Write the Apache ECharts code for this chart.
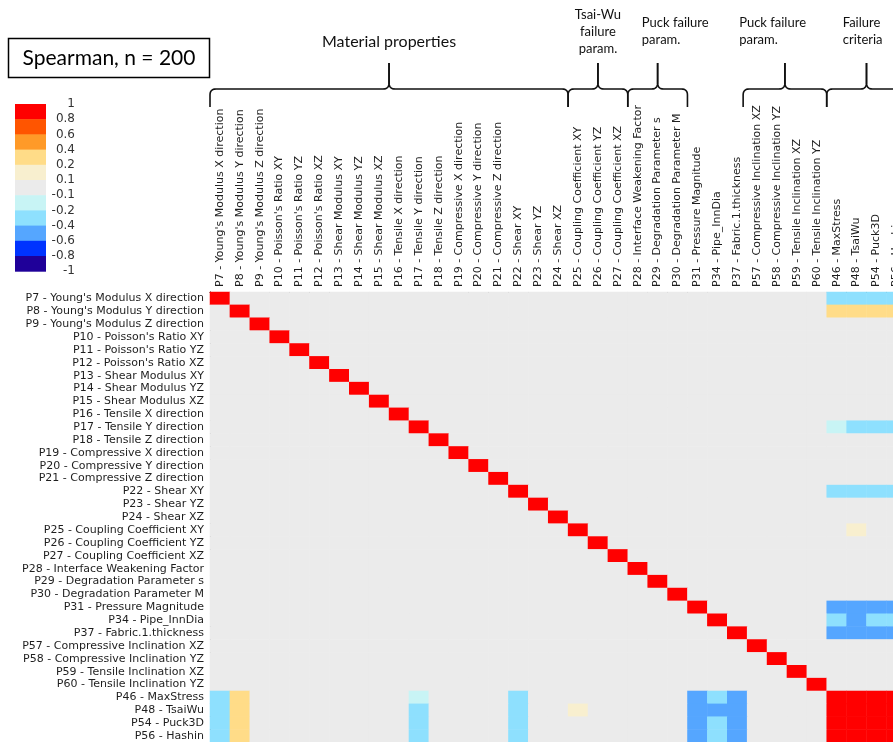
<!DOCTYPE html>
<html>
<head>
<meta charset="utf-8">
<script src="https://cdn.jsdelivr.net/npm/echarts@6/dist/echarts.min.js"></script>
<style>
  html, body { margin: 0; padding: 0; background: #fff; }
  #chart { width: 893px; height: 742px; }
</style>
</head>
<body>
<div id="chart"></div>
<script>
// Input parameters (rows/columns 1..31) followed by the failure criteria (32..35)
const inputParams = [
  "P7 - Young's Modulus X direction",
  "P8 - Young's Modulus Y direction",
  "P9 - Young's Modulus Z direction",
  "P10 - Poisson's Ratio XY",
  "P11 - Poisson's Ratio YZ",
  "P12 - Poisson's Ratio XZ",
  "P13 - Shear Modulus XY",
  "P14 - Shear Modulus YZ",
  "P15 - Shear Modulus XZ",
  "P16 - Tensile X direction",
  "P17 - Tensile Y direction",
  "P18 - Tensile Z direction",
  "P19 - Compressive X direction",
  "P20 - Compressive Y direction",
  "P21 - Compressive Z direction",
  "P22 - Shear XY",
  "P23 - Shear YZ",
  "P24 - Shear XZ",
  "P25 - Coupling Coefficient XY",
  "P26 - Coupling Coefficient YZ",
  "P27 - Coupling Coefficient XZ",
  "P28 - Interface Weakening Factor",
  "P29 - Degradation Parameter s",
  "P30 - Degradation Parameter M",
  "P31 - Pressure Magnitude",
  "P34 - Pipe_InnDia",
  "P37 - Fabric.1.thickness",
  "P57 - Compressive Inclination XZ",
  "P58 - Compressive Inclination YZ",
  "P59 - Tensile Inclination XZ",
  "P60 - Tensile Inclination YZ"
];
const criteria = [
  "P46 - MaxStress",
  "P48 - TsaiWu",
  "P54 - Puck3D",
  "P56 - Hashin"
];

// Spearman correlation of each failure criterion with every parameter,
// in the same order as inputParams followed by criteria.
//                 P7    P8   P9 P10 P11 P12 P13 P14 P15 P16   P17  P18 P19 P20 P21  P22  P23 P24  P25 P26 P27 P28 P29 P30  P31   P34   P37  P57 P58 P59 P60  P46   P48   P54   P56
const maxStress = [-0.3, 0.3, 0,  0,  0,  0,  0,  0,  0,  0, -0.15, 0,  0,  0,  0, -0.3, 0,  0,  0,   0,  0,  0,  0,  0, -0.5, -0.3, -0.5, 0,  0,  0,  0,  1,    0.92, 0.9,  0.9];
const tsaiWu    = [-0.3, 0.3, 0,  0,  0,  0,  0,  0,  0,  0, -0.3,  0,  0,  0,  0, -0.3, 0,  0,  0.15,0,  0,  0,  0,  0, -0.5, -0.5, -0.5, 0,  0,  0,  0,  0.92, 1,    0.9,  0.9];
const puck3D    = [-0.3, 0.3, 0,  0,  0,  0,  0,  0,  0,  0, -0.3,  0,  0,  0,  0, -0.3, 0,  0,  0,   0,  0,  0,  0,  0, -0.5, -0.3, -0.5, 0,  0,  0,  0,  0.9,  0.9,  1,    0.95];
const hashin    = [-0.3, 0.3, 0,  0,  0,  0,  0,  0,  0,  0, -0.3,  0,  0,  0,  0, -0.3, 0,  0,  0,   0,  0,  0,  0,  0, -0.5, -0.3, -0.5, 0,  0,  0,  0,  0.9,  0.9,  0.95, 1];
const criteriaCorr = [maxStress, tsaiWu, puck3D, hashin];

// The sampled input parameters are mutually uncorrelated (|rho| < 0.1)
const inputCrossCorr = 0;
const selfCorr = 1;

// Colour scale: band edges from top to bottom and the colour of each band
const scaleEdges = [1, 0.8, 0.6, 0.4, 0.2, 0.1, -0.1, -0.2, -0.4, -0.6, -0.8, -1];
const scaleTickLabels = ['1', '0.8', '0.6', '0.4', '0.2', '0.1', '-0.1', '-0.2', '-0.4', '-0.6', '-0.8', '-1'];
const bandColors = ['#ff0000', '#ff5500', '#ff9a28', '#ffdc88', '#f8efcf', '#ebebeb',
                    '#c8f4f5', '#8ee0fe', '#55a6ff', '#0033ff', '#1f0099'];

// Parameter groups marked with braces above the matrix (first/last column index)
const groups = [
  { text: 'Material properties', from: 0, to: 17 },
  { text: 'Tsai-Wu\nfailure\nparam.', from: 18, to: 20 },
  { text: 'Puck failure\nparam.', from: 21, to: 23 },
  { text: 'Puck failure\nparam.', from: 27, to: 30 },
  { text: 'Failure\ncriteria', from: 31, to: 34 }
];
const titleText = 'Spearman, n = 200';

// ---- build the matrix -------------------------------------------------------
const labels = inputParams.concat(criteria);
const nIn = inputParams.length;
const heatData = [];
for (let r = 0; r < labels.length; r++) {
  for (let c = 0; c < labels.length; c++) {
    let v;
    if (r >= nIn) v = criteriaCorr[r - nIn][c];
    else if (c >= nIn) v = criteriaCorr[c - nIn][r];
    else v = (r === c) ? selfCorr : inputCrossCorr;
    heatData.push([c, r, v]);
  }
}

const pieces = bandColors.map((col, i) => ({ min: scaleEdges[i + 1], max: scaleEdges[i], color: col }));

// ---- layout ------------------------------------------------------------------
// The matrix is wider than the canvas; its right-most columns run off the edge.
const GRID = { left: 210, top: 292, cellW: 19.894, cellH: 12.87 };
const axisFont = { fontFamily: 'DejaVu Sans', fontSize: 11, color: '#1e1e1e' };

const chart = echarts.init(document.getElementById('chart'), null, { renderer: 'canvas' });

const option = {
  backgroundColor: '#ffffff',
  animation: false,
  grid: {
    left: GRID.left, top: GRID.top,
    width: GRID.cellW * labels.length, height: GRID.cellH * labels.length,
    containLabel: false,
    outerBoundsMode: 'none'
  },
  xAxis: {
    type: 'category', position: 'top', data: labels,
    axisLine: { lineStyle: { color: '#000', width: 1 } },
    axisTick: { alignWithLabel: true, length: 3, lineStyle: { color: '#000' } },
    axisLabel: Object.assign({ interval: 0, rotate: -90, margin: 5 }, axisFont),
    splitLine: { show: false }
  },
  yAxis: {
    type: 'category', inverse: true, data: labels,
    axisLine: { lineStyle: { color: '#000', width: 1 } },
    axisTick: { alignWithLabel: true, length: 3, lineStyle: { color: '#000' } },
    axisLabel: Object.assign({ interval: 0, margin: 6 }, axisFont),
    splitLine: { show: false }
  },
  visualMap: { type: 'piecewise', show: false, dimension: 2, pieces: pieces, seriesIndex: 0 },
  series: [{
    type: 'heatmap', data: heatData,
    itemStyle: { borderWidth: 0 },
    emphasis: { disabled: true }
  }]
};
chart.setOption(option);

// ---- decorations: title box, colour scale, group braces ----------------------
const graphics = [];

graphics.push({
  type: 'rect', shape: { x: 8.5, y: 38.5, width: 201, height: 39 },
  style: { fill: '#fff', stroke: '#000', lineWidth: 1.5 }
});
graphics.push({
  type: 'text', x: 109, y: 58,
  style: { text: titleText, font: '21px Lato', fill: '#000', align: 'center', verticalAlign: 'middle' }
});

const bar = { x: 15, y: 104, w: 31, h: 15.2 };
bandColors.forEach((col, i) => {
  graphics.push({ type: 'rect', shape: { x: bar.x, y: bar.y + i * bar.h, width: bar.w, height: bar.h + 0.5 },
                  style: { fill: col } });
});
scaleTickLabels.forEach((t, i) => {
  graphics.push({ type: 'text', x: 75, y: bar.y + i * bar.h,
                  style: { text: t, font: '12px "DejaVu Sans"', fill: '#333', align: 'right', verticalAlign: 'middle' } });
});

// braces: polylines made of straight runs and rounded (quadratic) corners
const lineY = 89, peakY = 63, endY = 107, rad = 6;
const colEdge = (idx, side) => {
  const c = chart.convertToPixel({ xAxisIndex: 0 }, labels[idx]);
  return c + side * GRID.cellW / 2;
};
function quad(p0, c, p1, out) {
  for (let k = 1; k <= 8; k++) {
    const t = k / 8, u = 1 - t;
    out.push([u * u * p0[0] + 2 * u * t * c[0] + t * t * p1[0],
              u * u * p0[1] + 2 * u * t * c[1] + t * t * p1[1]]);
  }
}
const labelLayout = [
  { align: 'center', dx: 0, top: 33, size: 16 },
  { align: 'center', dx: 0, top: 6, size: 13 },
  { align: 'left', dx: 14, top: 14, size: 13 },
  { align: 'left', dx: -4, top: 14, size: 13 },
  { align: 'left', dx: 16, top: 14, size: 13 }
];
groups.forEach((g, k) => {
  const x0 = colEdge(g.from, -1) + (k === 3 ? -4 : 0);
  const x1 = colEdge(g.to, 1);
  const xc = (x0 + x1) / 2;
  const left = [[x0, endY], [x0, lineY + rad]];
  quad([x0, lineY + rad], [x0, lineY], [x0 + rad, lineY], left);
  left.push([xc - rad, lineY]);
  quad([xc - rad, lineY], [xc, lineY], [xc, lineY - rad], left);
  left.push([xc, peakY]);
  const right = [[xc, peakY], [xc, lineY - rad]];
  quad([xc, lineY - rad], [xc, lineY], [xc + rad, lineY], right);
  right.push([x1 - rad, lineY]);
  quad([x1 - rad, lineY], [x1, lineY], [x1, lineY + rad], right);
  right.push([x1, endY]);
  [left, right].forEach(pts => graphics.push({
    type: 'polyline', shape: { points: pts },
    style: { fill: null, stroke: '#111', lineWidth: 1.6 }
  }));
  const L = labelLayout[k];
  const tx = L.align === 'center' ? xc : x0 + L.dx;
  graphics.push({ type: 'text', x: tx, y: L.top,
                  style: { text: g.text, font: L.size + 'px Lato', fill: '#111', align: L.align,
                           verticalAlign: 'top', lineHeight: 17 } });
});

chart.setOption({ graphic: graphics });
</script>
</body>
</html>
